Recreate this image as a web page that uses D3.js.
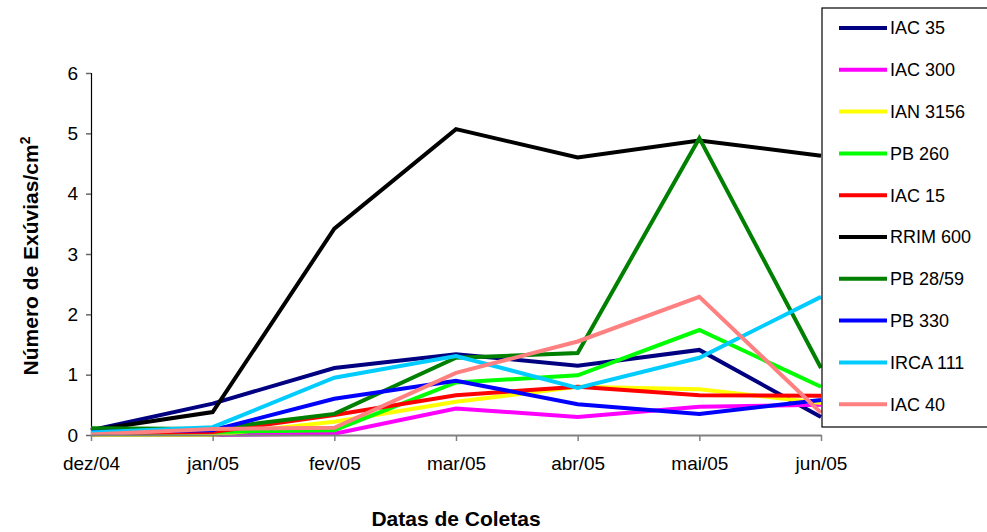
<!DOCTYPE html>
<html lang="pt">

<head>
    <meta charset="utf-8">
    <title>Número de Exúvias</title>
    <script type="text/javascript" src="https://d3js.org/d3.v7.min.js"></script>
    <style type="text/css">
        body {
            margin: 0;
            background-color: white;
        }

        text {
            font-family: "Liberation Sans", Arial, sans-serif;
        }
    </style>
</head>

<body>
    <div id="graph"></div>

    <script type="text/javascript">

        // months on the x axis
        var months = ["dez/04", "jan/05", "fev/05", "mar/05", "abr/05", "mai/05", "jun/05"];
        var yTicks = [0, 1, 2, 3, 4, 5, 6];

        // one array per clone
        var iac35 = [0.08, 0.52, 1.11, 1.34, 1.15, 1.41, 0.30];
        var iac300 = [0.00, 0.00, 0.02, 0.44, 0.30, 0.47, 0.50];
        var ian3156 = [0.00, 0.00, 0.22, 0.55, 0.80, 0.76, 0.53];
        var pb260 = [0.02, 0.05, 0.08, 0.87, 0.99, 1.74, 0.80];
        var iac15 = [0.03, 0.05, 0.33, 0.66, 0.80, 0.66, 0.65];
        var rrim600 = [0.08, 0.38, 3.42, 5.07, 4.60, 4.88, 4.63];
        var pb2859 = [0.11, 0.10, 0.35, 1.28, 1.36, 4.92, 1.11];
        var pb330 = [0.05, 0.08, 0.60, 0.90, 0.51, 0.35, 0.58];
        var irca111 = [0.04, 0.13, 0.95, 1.31, 0.78, 1.28, 2.29];
        var iac40 = [0.01, 0.10, 0.12, 1.03, 1.55, 2.29, 0.37];

        var seriesNames = ["IAC 35", "IAC 300", "IAN 3156", "PB 260", "IAC 15", "RRIM 600", "PB 28/59", "PB 330", "IRCA 111", "IAC 40"];
        var seriesValues = [iac35, iac300, ian3156, pb260, iac15, rrim600, pb2859, pb330, irca111, iac40];
        var seriesColors = ["#000080", "#FF00FF", "#FFFF00", "#00FF00", "#FF0000", "#000000", "#008000", "#0000FF", "#00CCFF", "#FF8080"];

        var series = seriesNames.map(function (name, i) {
            return { name: name, values: seriesValues[i], color: seriesColors[i] };
        });

        var W = 987, H = 532;

        // plot area
        var margin = { top: 73, left: 91 },
            width = 730,
            height = 362;

        var svg = d3.select("#graph")
            .append("svg")
            .attr("width", W)
            .attr("height", H);

        var g = svg.append("g")
            .attr("transform", `translate(${margin.left}, ${margin.top})`);

        var x = d3.scalePoint()
            .domain(months)
            .range([0, width]);

        var y = d3.scaleLinear()
            .domain([0, 6])
            .range([height, 0]);

        // y axis
        var yAxis = g.append("g")
            .call(d3.axisLeft(y).tickValues(yTicks).tickSize(5).tickPadding(8).tickFormat(d3.format("d")));
        yAxis.select(".domain").attr("stroke", "#000").attr("stroke-width", 1.2);
        yAxis.selectAll(".tick line").attr("stroke", "#666").attr("stroke-width", 1.5);
        yAxis.selectAll(".tick text")
            .attr("font-size", "19px")
            .attr("fill", "#000");

        // lines
        var line = d3.line()
            .x(function (d, i) { return x(months[i]); })
            .y(function (d) { return y(d); });

        g.selectAll(".serie")
            .data(series)
            .enter()
            .append("path")
            .attr("class", "serie")
            .attr("d", function (d) { return line(d.values); })
            .attr("fill", "none")
            .attr("stroke", function (d) { return d.color; })
            .attr("stroke-width", 4)
            .attr("stroke-linejoin", "miter");

        // x axis
        var xAxis = g.append("g")
            .attr("transform", `translate(0, ${height})`)
            .call(d3.axisBottom(x).tickSize(6).tickSizeOuter(0).tickPadding(16));
        xAxis.select(".domain").attr("stroke", "#808080").attr("stroke-width", 2);
        xAxis.selectAll(".tick line").attr("stroke", "#808080").attr("stroke-width", 1.5);
        xAxis.selectAll(".tick text")
            .attr("font-size", "19px")
            .attr("fill", "#000");

        // axis titles
        svg.append("text")
            .attr("x", 456)
            .attr("y", 526)
            .attr("text-anchor", "middle")
            .attr("font-size", "21px")
            .attr("font-weight", "bold")
            .text("Datas de Coletas");

        var yTitle = svg.append("text")
            .attr("transform", "translate(38, 256) rotate(-90)")
            .attr("text-anchor", "middle")
            .attr("font-size", "21px")
            .attr("font-weight", "bold");
        yTitle.append("tspan").text("Número de Exúvias/cm");
        yTitle.append("tspan")
            .attr("font-size", "14px")
            .attr("dy", "-8")
            .text("2");

        // legend
        var legend = svg.append("g");
        legend.append("rect")
            .attr("x", 822)
            .attr("y", 8)
            .attr("width", 200)
            .attr("height", 419)
            .attr("fill", "white")
            .attr("stroke", "#000")
            .attr("stroke-width", 1.2);

        var item = legend.selectAll(".item")
            .data(series)
            .enter()
            .append("g")
            .attr("class", "item")
            .attr("transform", function (d, i) { return `translate(0, ${28 + i * 41.8})`; });

        item.append("line")
            .attr("x1", 839)
            .attr("x2", 887)
            .attr("stroke", function (d) { return d.color; })
            .attr("stroke-width", 4);

        item.append("text")
            .attr("x", 890)
            .attr("dy", "0.36em")
            .attr("font-size", "18px")
            .text(function (d) { return d.name; });

    </script>
</body>

</html>
